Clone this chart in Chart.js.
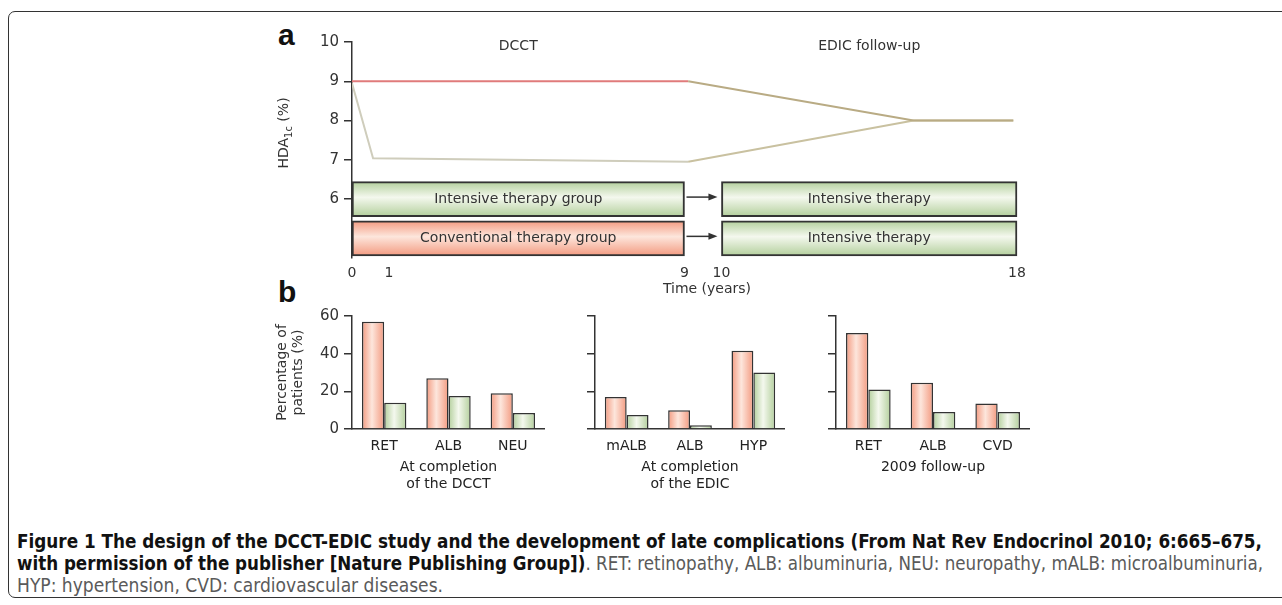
<!DOCTYPE html>
<html>
<head>
<meta charset="utf-8">
<script src="https://cdn.jsdelivr.net/npm/chart.js@4.4.1/dist/chart.umd.min.js"></script>
<style>
html, body { margin: 0; padding: 0; background: #fff; }
body { width: 1282px; height: 605px; position: relative; overflow: hidden; font-family: "DejaVu Sans", sans-serif; }
.frame { position: absolute; left: 8px; top: 11px; width: 1300px; height: 587px; border: 1.5px solid #333; border-radius: 7px; box-sizing: border-box; }
.box { position: absolute; }
.tag { position: absolute; font: bold 30px/30px "Liberation Sans", Arial, sans-serif; color: #111; }
.caption { position: absolute; left: 17px; top: 530px; font-family: "Liberation Sans Narrow", "DejaVu Sans Condensed", "Liberation Sans", sans-serif; font-size: 19px; line-height: 22px; color: #5a5a5a; white-space: nowrap; }
.caption div { transform-origin: 0 50%; width: max-content; }
.caption b { color: #111; }
</style>
</head>
<body>
<div class="frame"></div>

<div class="tag" style="left:278px; top:20px;">a</div>
<div class="tag" style="left:278px; top:277px;">b</div>

<div class="box" style="left:230px; top:20px; width:830px; height:300px;"><canvas id="designChart"></canvas></div>
<div class="box" style="left:260px; top:302px; width:285px; height:197px;"><canvas id="dcctBars"></canvas></div>
<div class="box" style="left:575px; top:302px; width:210px; height:197px;"><canvas id="edicBars"></canvas></div>
<div class="box" style="left:816px; top:302px; width:214px; height:197px;"><canvas id="followBars"></canvas></div>

<div class="caption">
  <div data-w="1245"><b>Figure 1 The design of the DCCT-EDIC study and the development of late complications (From Nat Rev Endocrinol 2010; 6:665–675,</b></div>
  <div data-w="1246"><b>with permission of the publisher [Nature Publishing Group])</b>. RET: retinopathy, ALB: albuminuria, NEU: neuropathy, mALB: microalbuminuria,</div>
  <div data-w="426">HYP: hypertension, CVD: cardiovascular diseases.</div>
</div>

<script>
// ---- panel a data ----
const timeTicks = [0, 1, 9, 10, 18];
const hba1cTicks = [6, 7, 8, 9, 10];
const conventionalHbA1c = [
	{ x: 0, y: 9.0 }, { x: 9.1, y: 9.0 }, { x: 15.2, y: 8.0 }, { x: 17.9, y: 8.0 }
];
const intensiveHbA1c = [
	{ x: 0, y: 8.95 }, { x: 0.57, y: 7.04 }, { x: 9.1, y: 6.95 }, { x: 15.2, y: 8.0 }, { x: 17.9, y: 8.0 }
];
const phaseNames = ['DCCT', 'EDIC follow-up'];
const phaseSpans = [[0, 9], [10, 18]];
const groupLevels = [6, 5]; // intensive row, conventional row
const boxLabels = [
	['Intensive therapy group', 'Intensive therapy'],
	['Conventional therapy group', 'Intensive therapy']
];

// ---- panel b data ----
const dcctLabels = ['RET', 'ALB', 'NEU'];
const dcctConventional = [57, 27, 19];
const dcctIntensive = [14, 17.5, 8.5];

const edicLabels = ['mALB', 'ALB', 'HYP'];
const edicConventional = [17, 10, 41.5];
const edicIntensive = [7.5, 2, 30];

const followLabels = ['RET', 'ALB', 'CVD'];
const followConventional = [51, 24.5, 13.5];
const followIntensive = [21, 9, 9];

const pctTicks = [0, 20, 40, 60];

const INK = '#333';
const RED_EDGE = '#f39a80', RED_MID = '#fde6dc';
const GREEN_EDGE = '#b3cf9c', GREEN_MID = '#f4f8ee';
const FONT = '"DejaVu Sans", sans-serif';

// boxes: one bar per group row and phase
const boxData = [];
const boxText = [];
const boxIsRed = [];
groupLevels.forEach((level, r) => {
	phaseSpans.forEach((span, p) => {
		boxData.push({ x: span, y: level });
		boxText.push(boxLabels[r][p]);
		boxIsRed.push(r === 1 && p === 0);
	});
});

const BOX_H = 35;

function threeStop(ctx, x0, y0, x1, y1, red) {
	if (![x0, y0, x1, y1].every(Number.isFinite)) return red ? RED_EDGE : GREEN_EDGE;
	const g = ctx.createLinearGradient(x0, y0, x1, y1);
	g.addColorStop(0, red ? RED_EDGE : GREEN_EDGE);
	g.addColorStop(0.45, red ? RED_MID : GREEN_MID);
	g.addColorStop(1, red ? RED_EDGE : GREEN_EDGE);
	return g;
}

const designPlugin = {
	id: 'designExtras',
	afterDatasetsDraw(chart) {
		const { ctx, chartArea } = chart;
		const xs = chart.scales.x, ys = chart.scales.y;
		ctx.save();

		// text inside the boxes
		const meta = chart.getDatasetMeta(2);
		ctx.font = `14px ${FONT}`;
		ctx.fillStyle = INK;
		ctx.textAlign = 'center';
		ctx.textBaseline = 'middle';
		meta.data.forEach((el, i) => {
			const p = el.getProps(['x', 'y', 'base'], true);
			ctx.fillText(boxText[i], (p.x + p.base) / 2, p.y);
		});

		// arrows between phases
		ctx.strokeStyle = INK;
		ctx.fillStyle = INK;
		ctx.lineWidth = 1.5;
		groupLevels.forEach(level => {
			const y = ys.getPixelForValue(level) - 2;
			const x1 = xs.getPixelForValue(phaseSpans[0][1]) + 2;
			const x2 = xs.getPixelForValue(phaseSpans[1][0]) - 4;
			ctx.beginPath();
			ctx.moveTo(x1, y);
			ctx.lineTo(x2 - 6, y);
			ctx.stroke();
			ctx.beginPath();
			ctx.moveTo(x2, y);
			ctx.lineTo(x2 - 9, y - 3.5);
			ctx.lineTo(x2 - 9, y + 3.5);
			ctx.closePath();
			ctx.fill();
		});

		// phase titles
		ctx.font = `14px ${FONT}`;
		phaseNames.forEach((name, i) => {
			const mid = (phaseSpans[i][0] + phaseSpans[i][1]) / 2;
			ctx.fillText(name, xs.getPixelForValue(mid), ys.getPixelForValue(10) + 4);
		});

		// x title, centred between the two phases
		const gap = (phaseSpans[0][1] + phaseSpans[1][0]) / 2;
		ctx.fillText('Time (years)', xs.getPixelForValue(gap) + 4, chartArea.bottom + 31);

		// y title with subscript
		ctx.translate(chartArea.left - 69, chartArea.top + 91);
		ctx.rotate(-Math.PI / 2);
		ctx.textAlign = 'left';
		ctx.textBaseline = 'alphabetic';
		const big = `14px ${FONT}`, small = `10px ${FONT}`;
		ctx.font = big;
		const w1 = ctx.measureText('HDA').width, w3 = ctx.measureText(' (%)').width;
		ctx.font = small;
		const w2 = ctx.measureText('1c').width;
		let tx = -(w1 + w2 + w3) / 2;
		ctx.font = big; ctx.fillText('HDA', tx, 5); tx += w1;
		ctx.font = small; ctx.fillText('1c', tx, 9); tx += w2;
		ctx.font = big; ctx.fillText(' (%)', tx, 5);
		ctx.restore();
	}
};

const designChart = new Chart(document.getElementById('designChart'), {
	type: 'line',
	data: {
		datasets: [
			{
				data: conventionalHbA1c,
				borderColor: '#e07b7b',
				borderWidth: 2,
				pointRadius: 0,
				segment: { borderColor: c => c.p0.parsed.x >= phaseSpans[0][1] ? '#b9ab84' : '#e07b7b' }
			},
			{
				data: intensiveHbA1c,
				borderColor: '#cfcdbc',
				borderWidth: 2,
				pointRadius: 0,
				segment: { borderColor: c => c.p0.parsed.x >= phaseSpans[0][1] ? '#c9c1a0' : '#cfcdbc' }
			},
			{
				type: 'bar',
				indexAxis: 'y',
				data: boxData,
				barThickness: BOX_H,
				borderColor: INK,
				borderWidth: 2,
				borderSkipped: false,
				clip: false,
				backgroundColor: (c) => {
					const red = boxIsRed[c.dataIndex];
					const ys = c.chart.scales.y;
					if (!ys || !c.raw) return red ? RED_EDGE : GREEN_EDGE;
					const yc = ys.getPixelForValue(c.raw.y);
					return threeStop(c.chart.ctx, 0, yc - BOX_H / 2, 0, yc + BOX_H / 2, red);
				}
			}
		]
	},
	options: {
		responsive: true,
		maintainAspectRatio: false,
		animation: false,
		layout: { padding: { left: 0, right: 43, top: 22, bottom: 0 } },
		plugins: { legend: { display: false }, tooltip: { enabled: false }, colors: { enabled: false } },
		scales: {
			x: {
				type: 'linear', min: 0, max: 18, offset: false,
				grid: { display: false, drawTicks: false, offset: false },
				border: { display: false },
				afterBuildTicks: s => { s.ticks = timeTicks.map(v => ({ value: v })); },
				afterFit: s => { s.height = 62; },
				ticks: { autoSkip: false, maxRotation: 0, padding: 7, color: INK, font: { family: FONT, size: 14 } }
			},
			y: {
				type: 'linear', min: 4.5, max: 10, offset: false, beginAtZero: false,
				grid: { display: true, drawOnChartArea: false, drawTicks: true, tickLength: 8, color: INK, lineWidth: 1.5, offset: false },
				border: { color: INK, width: 1.5 },
				afterBuildTicks: s => { s.ticks = hba1cTicks.map(v => ({ value: v })); },
				afterFit: s => { s.width = 122; },
				ticks: { padding: 5, color: INK, font: { family: FONT, size: 15 } }
			}
		}
	},
	plugins: [designPlugin]
});

// ---- panel b ----
const CAT_PCT = 0.69;

function barGradient(c) {
	const red = c.datasetIndex === 0;
	const xs = c.chart.scales.x;
	if (!xs || c.type !== 'data') return red ? RED_EDGE : GREEN_EDGE;
	const n = c.chart.data.labels.length;
	const bw = xs.width / n * CAT_PCT / 2;
	const left = xs.getPixelForValue(c.dataIndex) + (c.datasetIndex - 1) * bw;
	return threeStop(c.chart.ctx, left, 0, left + bw, 0, red);
}

function barSeries(label, values) {
	return {
		label: label,
		data: values,
		categoryPercentage: CAT_PCT,
		barPercentage: 1,
		borderColor: INK,
		borderWidth: 1.5,
		backgroundColor: barGradient
	};
}

const barCharts = [];
function makeBars(id, labels, conventional, intensive, title, showYLabels, axisWidth) {
	const twoLines = title.length > 1;
	barCharts.push(new Chart(document.getElementById(id), {
		type: 'bar',
		data: {
			labels: labels,
			datasets: [barSeries('Conventional', conventional), barSeries('Intensive', intensive)]
		},
		options: {
			responsive: true,
			maintainAspectRatio: false,
			animation: false,
			layout: { padding: { left: 0, right: 0, top: 10, bottom: 0 } },
			plugins: { legend: { display: false }, tooltip: { enabled: false }, colors: { enabled: false } },
			scales: {
				x: {
					grid: { display: false, drawTicks: false },
					border: { color: INK, width: 1.5 },
					afterFit: s => { s.height = 70; },
					ticks: { padding: 9, color: '#222', font: { family: FONT, size: 14 } },
					title: {
						display: true, text: title, color: '#222',
						font: { family: FONT, size: 14 },
						padding: { top: 0, bottom: twoLines ? 6.5 : 23.5 }
					}
				},
				y: {
					min: 0, max: 60,
					grid: { drawOnChartArea: false, tickLength: 8, color: INK, lineWidth: 1.5 },
					border: { color: INK, width: 1.5 },
					afterBuildTicks: s => { s.ticks = pctTicks.map(v => ({ value: v })); },
					afterFit: s => { s.width = axisWidth; },
					ticks: {
						padding: 5, color: INK, font: { family: FONT, size: 15 },
						callback: v => showYLabels ? v : ''
					},
					title: {
						display: showYLabels, text: ['Percentage of', 'patients (%)'], color: INK,
						font: { family: FONT, size: 14 },
						padding: { top: 13.5, bottom: 0 }
					}
				}
			}
		}
	}));
}

makeBars('dcctBars', dcctLabels, dcctConventional, dcctIntensive, ['At completion', 'of the DCCT'], true, 92);
makeBars('edicBars', edicLabels, edicConventional, edicIntensive, ['At completion', 'of the EDIC'], false, 20);
makeBars('followBars', followLabels, followConventional, followIntensive, ['2009 follow-up'], false, 20);

// second pass so the gradients see laid-out scales
designChart.update('none');
barCharts.forEach(ch => ch.update('none'));

// fit caption lines to the measured widths of the figure
document.querySelectorAll('.caption div').forEach(line => {
	const target = +line.dataset.w;
	const w = line.getBoundingClientRect().width;
	if (w > 0) line.style.transform = `scaleX(${target / w})`;
});
</script>
</body>
</html>
